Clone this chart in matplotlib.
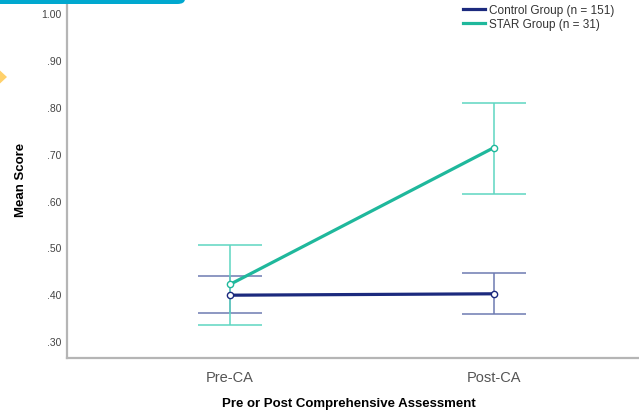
import matplotlib
matplotlib.use('Agg')
import matplotlib.pyplot as plt
from matplotlib.patches import FancyBboxPatch, Polygon
import numpy as np

matplotlib.rc('font', family=['Liberation Sans', 'DejaVu Sans'])

# group means and 95% CI bounds at the two assessments
phases = ['Pre-CA', 'Post-CA']
control_mean = [0.398, 0.401]
control_lo = [0.360, 0.357]
control_hi = [0.438, 0.445]
star_mean = [0.421, 0.713]
star_lo = [0.334, 0.614]
star_hi = [0.506, 0.809]
yticks = [0.30, 0.40, 0.50, 0.60, 0.70, 0.80, 0.90, 1.00]

W, H = 639, 414
fig = plt.figure(figsize=(W/100., H/100.), dpi=100)

# axes run off the right and top edges of the frame
ax = fig.add_axes([67./W, (H-359.)/H, (W-67.)/W, 359./H])
ax.set_xlim(-0.617, 1.549)
ax.set_ylim(0.264, 1.030)

x = np.arange(len(phases))

def draw_group(mean, lo, hi, line_col, bar_col, label):
    mean = np.array(mean)
    err = [mean-np.array(lo), np.array(hi)-mean]
    ax.errorbar(x, mean, yerr=err, fmt='none', ecolor=bar_col, elinewidth=1.1,
                capsize=23, capthick=1.1, zorder=2)
    ax.plot(x, mean, '-', color=line_col, lw=2.3, label=label, zorder=3)
    ax.plot(x, mean, 'o', ms=4.5, mfc='white', mec=line_col, mew=1.0, zorder=4)

draw_group(control_mean, control_lo, control_hi, '#1c2a7e', '#6d7ab2', 'Control Group (n = 151)')
draw_group(star_mean, star_lo, star_hi, '#1fb89c', '#5ed6c1', 'STAR Group (n = 31)')

ax.set_xticks(x)
ax.set_xticklabels(phases, fontsize=10.5, color='#555555')
ax.set_yticks(yticks)
ax.set_yticklabels([('%.2f' % t).lstrip('0') for t in yticks], fontsize=7.5, color='#444444')
ax.tick_params(axis='both', length=0)
ax.tick_params(axis='x', pad=9)
ax.tick_params(axis='y', pad=4)

for side in ['top', 'right']:
    ax.spines[side].set_visible(False)
for side in ['left', 'bottom']:
    ax.spines[side].set_color('#b5b5b5')
    ax.spines[side].set_linewidth(1.6)

ax.set_ylabel('Mean Score', fontsize=9.5, fontweight='bold')
ax.yaxis.set_label_coords(-40./(W-67.), 0.5)
fig.text(349./W, 1-404./H, 'Pre or Post Comprehensive Assessment', fontsize=9.5,
         fontweight='bold', ha='center', va='center')

leg = ax.legend(loc='upper left', bbox_to_anchor=(463./W, 1-5./H),
                bbox_transform=fig.transFigure, frameon=False, fontsize=8.5,
                borderpad=0, borderaxespad=0, handlelength=1.9, handletextpad=0.3,
                labelspacing=0.2)
for t in leg.get_texts():
    t.set_color('#333333')

# slide decorations: cyan banner and yellow marker at the left edge
fig.patches.append(FancyBboxPatch((-20./W, 1-5./H), 205./W, 20./H,
                                  boxstyle='round,pad=0,rounding_size=0.012',
                                  transform=fig.transFigure, fc='#00a8cf', ec='none'))
fig.patches.append(Polygon([[-6./W, 1-66./H], [7./W, 1-78./H], [-6./W, 1-90./H]],
                           closed=True, transform=fig.transFigure, fc='#ffd16b', ec='none'))

fig.savefig('out.png', dpi=100)
